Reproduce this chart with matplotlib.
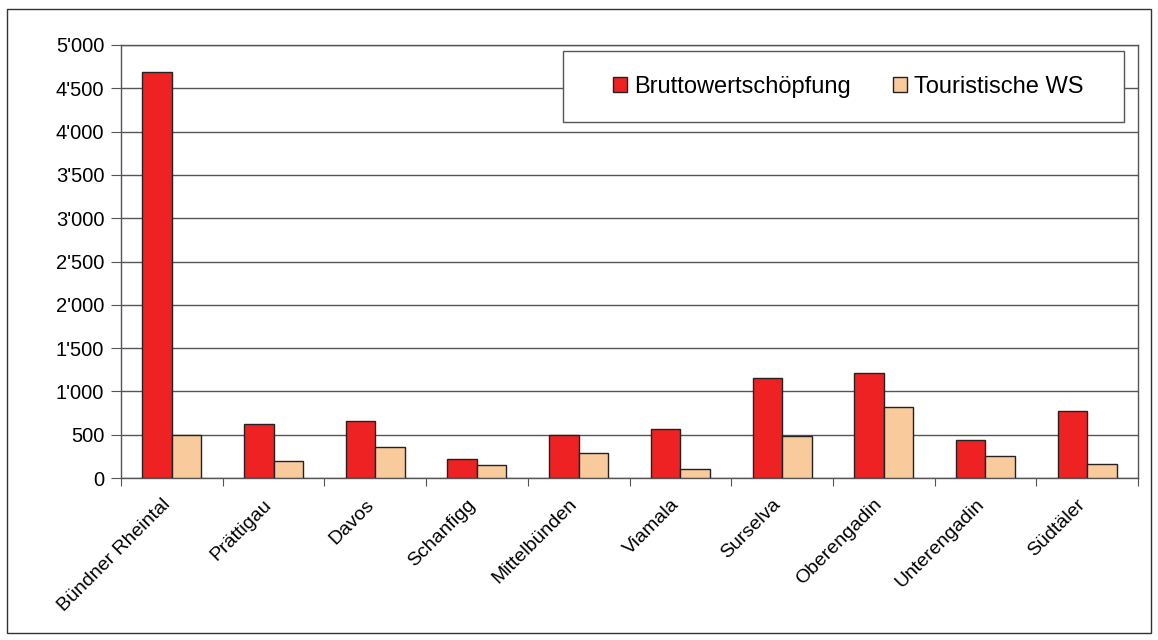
import numpy as np
import matplotlib
matplotlib.use("Agg")
from matplotlib import pyplot as plt
from matplotlib.patches import Rectangle
from matplotlib.ticker import FuncFormatter, FixedLocator

regions = ["Bündner Rheintal", "Prättigau", "Davos", "Schanfigg", "Mittelbünden",
           "Viamala", "Surselva", "Oberengadin", "Unterengadin", "Südtäler"]
brutto = [4690, 620, 655, 220, 493, 562, 1151, 1212, 439, 777]
touristisch = [497, 200, 354, 146, 292, 100, 489, 823, 254, 158]
series_names = ["Bruttowertschöpfung", "Touristische WS"]
yticks = list(range(0, 5001, 500))

plt.rcParams['font.family'] = ['Liberation Sans', 'DejaVu Sans']

fig = plt.figure(figsize=(11.58, 6.4), dpi=100)
fig.patches.append(Rectangle((7 / 1158, 1 - 633 / 640), 1144 / 1158, 624 / 640,
                             transform=fig.transFigure, fill=False,
                             edgecolor="#333333", linewidth=1))
ax = fig.add_axes([121 / 1158, 1 - 478 / 640, 1017 / 1158, 433 / 640])

x = np.arange(len(regions))
w = 0.29
ax.bar(x - w / 2, brutto, w, color="#ee2222", edgecolor="#222222", linewidth=1,
       label=series_names[0], zorder=3)
ax.bar(x + w / 2, touristisch, w, color="#f9cb9c", edgecolor="#222222", linewidth=1,
       label=series_names[1], zorder=3)

ax.set_xlim(-0.5, len(regions) - 0.5)
ax.set_ylim(0, 5000)
ax.set_yticks(yticks)
ax.yaxis.set_major_formatter(FuncFormatter(lambda v, p: "{:,}".format(int(v)).replace(",", "'")))
ax.grid(axis="y", color="#555555", linewidth=1, zorder=0)

# category boundaries as ticks, names centred in between
ax.xaxis.set_major_locator(FixedLocator(np.arange(-0.5, len(regions), 1.0)))
ax.xaxis.set_major_formatter(FuncFormatter(lambda v, p: ""))
ax.set_xticks(x - 0.1, minor=True)
ax.set_xticklabels(regions, minor=True, rotation=45, ha="right", va="top",
                   rotation_mode="anchor", fontsize=14)
ax.tick_params(axis="x", which="minor", length=0, pad=13)
ax.tick_params(axis="x", which="major", length=6, color="#555555", direction="out")
ax.tick_params(axis="y", length=7, color="#555555", labelsize=14.5, pad=5)

for s in ax.spines.values():
    s.set_color("#555555")
    s.set_linewidth(1)

# legend box
ax.add_patch(Rectangle((442 / 1017, (478 - 122) / 433), 561 / 1017, 71 / 433,
                       transform=ax.transAxes, facecolor="white",
                       edgecolor="#555555", linewidth=1, zorder=4))
ax.legend(loc="center", bbox_to_anchor=(0.715, 0.904), ncol=2, frameon=False,
          fontsize=17, handlelength=0.6, handleheight=0.6, handletextpad=0.3,
          columnspacing=1.8).set_zorder(5)

fig.savefig("out.png", dpi=100)
